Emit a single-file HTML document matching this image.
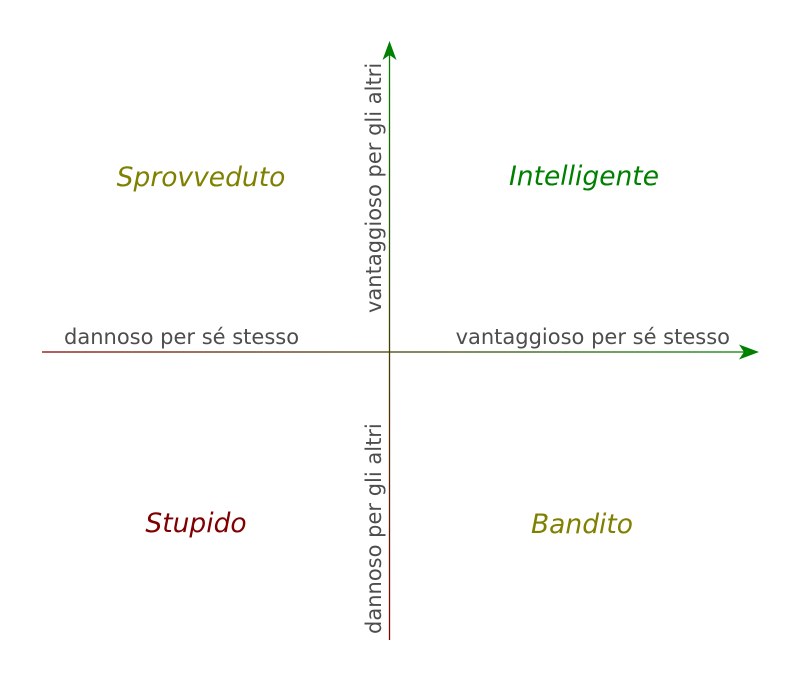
<!DOCTYPE html>
<html><head><meta charset="utf-8"><style>html,body{margin:0;padding:0;background:#fff}svg{display:block}</style></head>
<body>
<svg width="800" height="683" viewBox="0 0 800 683" xmlns="http://www.w3.org/2000/svg">
<defs>
<linearGradient id="h" gradientUnits="userSpaceOnUse" x1="42" y1="0" x2="758" y2="0">
<stop offset="0" stop-color="#800000"/><stop offset="1" stop-color="#008000"/></linearGradient>
<linearGradient id="v" gradientUnits="userSpaceOnUse" x1="0" y1="42" x2="0" y2="640">
<stop offset="0" stop-color="#008000"/><stop offset="1" stop-color="#800000"/></linearGradient>
</defs>
<line x1="42" y1="352" x2="745" y2="352" stroke="url(#h)" stroke-width="1.3"/>
<line x1="389.5" y1="55" x2="389.5" y2="640" stroke="url(#v)" stroke-width="1.3"/>
<path d="M759,352 L739,344.5 L744,352 L739,359.5 Z" fill="#008000"/>
<path d="M389.5,41 L382.5,60 L389.5,55 L396.5,60 Z" fill="#008000"/>
<g font-family="DejaVu Sans, Liberation Sans, sans-serif" font-style="italic" font-size="26.5">
<text x="201" y="186" text-anchor="middle" fill="#808000">Sprovveduto</text>
<text x="584" y="185" text-anchor="middle" fill="#008000">Intelligente</text>
<text x="196" y="532" text-anchor="middle" fill="#800000">Stupido</text>
<text x="582" y="533" text-anchor="middle" fill="#808000">Bandito</text>
</g>
<g font-family="DejaVu Sans, Liberation Sans, sans-serif" font-size="21" fill="#4d4d4d">
<text x="64" y="344">dannoso per sé stesso</text>
<text x="730" y="344" text-anchor="end">vantaggioso per sé stesso</text>
<text transform="translate(381,313) rotate(-90)">vantaggioso per gli altri</text>
<text transform="translate(381,634) rotate(-90)">dannoso per gli altri</text>
</g>
</svg>
</body></html>
